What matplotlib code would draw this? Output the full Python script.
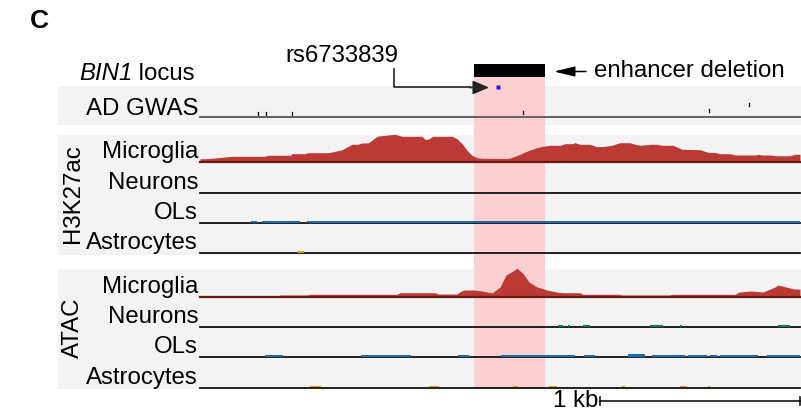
import matplotlib
matplotlib.use('Agg')
import matplotlib.pyplot as plt
from matplotlib.patches import Rectangle

plt.rcParams['font.family'] = ['Liberation Sans', 'DejaVu Sans']

# ---------------- data (genomic positions in bp from window start) ----------------
window_bp = 3000
deletion_bp = [1370, 1725]
snp_name = 'rs6733839'
snp_bp = 1470
snp_logp = 30.0

gwas_bp = [290, 330, 460, 1615, 2545, 2745]
gwas_logp = [3.5, 3.5, 3.0, 4.5, 6.0, 12.0]

h3k27ac_mg_bp = [0, 25, 75, 160, 325, 340, 450, 460, 525, 540, 640, 660, 710, 760, 790,
                 810, 840, 860, 885, 925, 975, 1010, 1110, 1125, 1140, 1165, 1260, 1285,
                 1310, 1335, 1360, 1385, 1415, 1535, 1550, 1575, 1600, 1625, 1650, 1685,
                 1715, 1750, 1800, 1825, 1860, 1875, 1900, 1950, 1985, 2025, 2060, 2100,
                 2150, 2175, 2200, 2250, 2285, 2310, 2365, 2385, 2410, 2500, 2540, 2575,
                 2600, 2650, 2675, 2775, 2790, 2810, 2850, 2875, 2950, 2975, 3000]
h3k27ac_mg_sig = [3.3, 3.3, 4.0, 5.7, 5.7, 6.7, 6.7, 8.3, 8.3, 9.3, 9.3, 10.0, 12.3, 17.7, 17.7,
                  19.0, 19.0, 21.7, 25.7, 26.7, 27.7, 25.7, 25.7, 22.7, 22.7, 25.7, 25.7, 23.3,
                  18.3, 11.7, 6.7, 4.3, 3.7, 3.5, 4.0, 5.7, 7.7, 10.0, 12.0, 14.3,
                  15.7, 16.7, 16.7, 18.3, 18.3, 19.3, 17.7, 17.7, 15.3, 15.7, 16.7, 19.3,
                  19.3, 17.7, 16.7, 17.7, 17.7, 16.7, 16.7, 15.0, 12.7, 12.3, 9.7, 9.5,
                  8.3, 8.3, 7.0, 7.0, 7.7, 7.0, 7.0, 6.3, 6.3, 7.7, 7.7]

atac_mg_bp = [0, 390, 400, 535, 550, 985, 1000, 1175, 1190, 1285, 1300, 1320, 1370, 1410,
              1460, 1500, 1530, 1565, 1585, 1615, 1645, 1685, 1735, 1790, 1820, 1900, 1915,
              2095, 2110, 2345, 2360, 2675, 2695, 2755, 2815, 2875, 2890, 2930, 2970, 3000]
atac_mg_sig = [1.0, 1.0, 2.0, 2.0, 2.7, 2.7, 4.3, 4.3, 3.0, 3.0, 5.3, 7.0, 7.0, 6.0,
               4.0, 10.0, 22.0, 26.0, 28.7, 23.7, 15.0, 10.0, 7.0, 4.7, 4.3, 4.3, 2.7,
               2.7, 2.0, 2.0, 2.7, 2.7, 5.0, 6.0, 5.0, 10.0, 12.0, 10.0, 8.0, 8.0]

# sparse tracks: (start bp, end bp) with signal
h3k27ac_neu_start, h3k27ac_neu_end, h3k27ac_neu_sig = [], [], []
h3k27ac_ol_start = [255, 310, 535]
h3k27ac_ol_end = [285, 500, 3000]
h3k27ac_ol_sig = [1.2, 1.2, 1.2]
h3k27ac_ast_start = [485]
h3k27ac_ast_end = [520]
h3k27ac_ast_sig = [1.5]

atac_neu_start = [1790, 1840, 1915, 2250, 2400, 2890]
atac_neu_end = [1815, 1850, 1950, 2315, 2410, 2950]
atac_neu_sig = [1.5, 1.5, 1.5, 1.5, 1.5, 1.5]
atac_ol_start = [325, 805, 1290, 1505, 1920, 2140, 2260, 2440, 2550, 2600, 2835]
atac_ol_end = [415, 1055, 1345, 1875, 1975, 2225, 2425, 2535, 2585, 2790, 3000]
atac_ol_sig = [1.5, 1.5, 1.5, 1.5, 1.5, 2.3, 2.0, 1.5, 1.5, 1.8, 1.5]
atac_ast_start = [550, 1145, 1565, 1745, 2110, 2400, 2540]
atac_ast_end = [605, 1195, 1590, 1785, 2125, 2435, 2548]
atac_ast_sig = [1.5, 1.5, 1.5, 1.5, 1.5, 1.5, 1.5]

cell_types = ['Microglia', 'Neurons', 'OLs', 'Astrocytes']
assays = ['H3K27ac', 'ATAC']
scalebar_kb = 1

# ---------------- styling / layout ----------------
W, H = 801, 415
fig = plt.figure(figsize=(W / 100, H / 100), dpi=100)
ax = fig.add_axes([0, 0, 1, 1])
PX0 = 200          # pixel x of window start
PXPERBP = 600 / window_bp
ax.set_xlim((0 - PX0) / PXPERBP, (W - PX0) / PXPERBP)
ax.set_ylim(H, 0)
ax.axis('off')


def X(px):
    return (px - PX0) / PXPERBP


GREY = '#f3f3f3'
PINK = '#fccfd1'
RED = '#bb3a35'
COLORS = {'Microglia': RED, 'Neurons': '#127a4e', 'OLs': '#1f6aa5', 'Astrocytes': '#e89a0c'}
FS = 17.3

# grey panels
for (y0, y1) in [(86, 125), (135, 255), (269, 389)]:
    ax.add_patch(Rectangle((X(58), y0), X(801) - X(58), y1 - y0, color=GREY, lw=0, zorder=0))

# deletion highlight + bar
ax.add_patch(Rectangle((deletion_bp[0], 77), deletion_bp[1] - deletion_bp[0], 389 - 77,
                       color=PINK, lw=0, zorder=1))
ax.add_patch(Rectangle((deletion_bp[0], 64), deletion_bp[1] - deletion_bp[0], 13,
                       color='black', lw=0, zorder=3))

# GWAS track
gwas_base = 117
ax.plot([0, window_bp], [gwas_base, gwas_base], color='#555555', lw=1.3, zorder=3)
for b, v in zip(gwas_bp, gwas_logp):
    ax.plot([b, b], [gwas_base - v - 1.5, gwas_base - v + 1.5], color='black', lw=0.9, zorder=4)
ax.plot([snp_bp + 20], [gwas_base - snp_logp], marker='s', ms=3.2, color='#1a1aff',
        mec='none', zorder=5)

# signal tracks
track_base = {
    'H3K27ac': [162, 192.7, 223, 253],
    'ATAC': [297, 327.3, 357, 387.5],
}
sparse = {
    ('H3K27ac', 'Neurons'): (h3k27ac_neu_start, h3k27ac_neu_end, h3k27ac_neu_sig),
    ('H3K27ac', 'OLs'): (h3k27ac_ol_start, h3k27ac_ol_end, h3k27ac_ol_sig),
    ('H3K27ac', 'Astrocytes'): (h3k27ac_ast_start, h3k27ac_ast_end, h3k27ac_ast_sig),
    ('ATAC', 'Neurons'): (atac_neu_start, atac_neu_end, atac_neu_sig),
    ('ATAC', 'OLs'): (atac_ol_start, atac_ol_end, atac_ol_sig),
    ('ATAC', 'Astrocytes'): (atac_ast_start, atac_ast_end, atac_ast_sig),
}
dense = {'H3K27ac': (h3k27ac_mg_bp, h3k27ac_mg_sig), 'ATAC': (atac_mg_bp, atac_mg_sig)}

for assay in assays:
    for ct, base in zip(cell_types, track_base[assay]):
        if ct == 'Microglia':
            xs, ys = dense[assay]
            ax.fill_between(xs, [base] * len(xs), [base - v for v in ys], color=RED,
                            lw=0, zorder=2)
            ax.plot([0, window_bp], [base, base], color='#6a1b18', lw=1.6, zorder=3)
        else:
            ax.plot([0, window_bp], [base, base], color='#111111', lw=1.3, zorder=3)
            s, e, v = sparse[(assay, ct)]
            if s:
                ax.bar(s, v, width=[b - a for a, b in zip(s, e)],
                       bottom=[base - 0.5 - vv for vv in v], align='edge',
                       color=COLORS[ct], lw=0, zorder=4)
        ax.text(X(198), base - 4, ct, ha='right', va='baseline', fontsize=FS, zorder=6)

# assay labels
ax.text(X(73), 194, 'H3K27ac', rotation=90, ha='center', va='center', fontsize=FS)
ax.text(X(73), 328, 'ATAC', rotation=90, ha='center', va='center', fontsize=FS)

# headers
ax.text(X(30), 28, 'C', ha='left', va='baseline', fontsize=19, fontweight='bold')
t_locus = ax.text(X(195), 80, ' locus', ha='right', va='baseline', fontsize=FS)
fig.canvas.draw()
bb = t_locus.get_window_extent(renderer=fig.canvas.get_renderer())
left_bp = ax.transData.inverted().transform((bb.x0, 0))[0]
ax.text(left_bp, 80, 'BIN1', ha='right', va='baseline', fontsize=FS, fontstyle='italic')
ax.text(X(198), 115, 'AD GWAS', ha='right', va='baseline', fontsize=FS)

# SNP label and elbow arrow
ax.text(X(342), 62, snp_name, ha='center', va='baseline', fontsize=FS)
ax.plot([X(394), X(394), X(470)], [69, 87.5, 87.5], color='#222222', lw=1.2, zorder=5)
ax.annotate('', xy=(X(489), 87.5), xytext=(X(470), 87.5),
            arrowprops=dict(arrowstyle='-|>,head_length=0.7,head_width=0.3', color='#222222',
                            lw=1.2, shrinkA=0, shrinkB=0, mutation_scale=14), zorder=5)

# enhancer deletion arrow
ax.annotate('', xy=(X(554), 71.5), xytext=(X(586), 71.5),
            arrowprops=dict(arrowstyle='-|>,head_length=0.9,head_width=0.22', color='black',
                            lw=1.1, shrinkA=0, shrinkB=0, mutation_scale=14))
ax.text(X(594), 77, 'enhancer deletion', ha='left', va='baseline', fontsize=FS)

# scale bar
sb_y = 401
sb_end = window_bp
sb_start = window_bp - scalebar_kb * 1000
ax.plot([sb_start, sb_end], [sb_y, sb_y], color='black', lw=1.1)
for xx in (sb_start, sb_end):
    ax.plot([xx, xx], [sb_y - 4, sb_y + 4], color='black', lw=1.1)
ax.text(sb_start - 8, 407, f'{scalebar_kb} kb', ha='right', va='baseline', fontsize=FS)

fig.savefig('out.png', dpi=100)
